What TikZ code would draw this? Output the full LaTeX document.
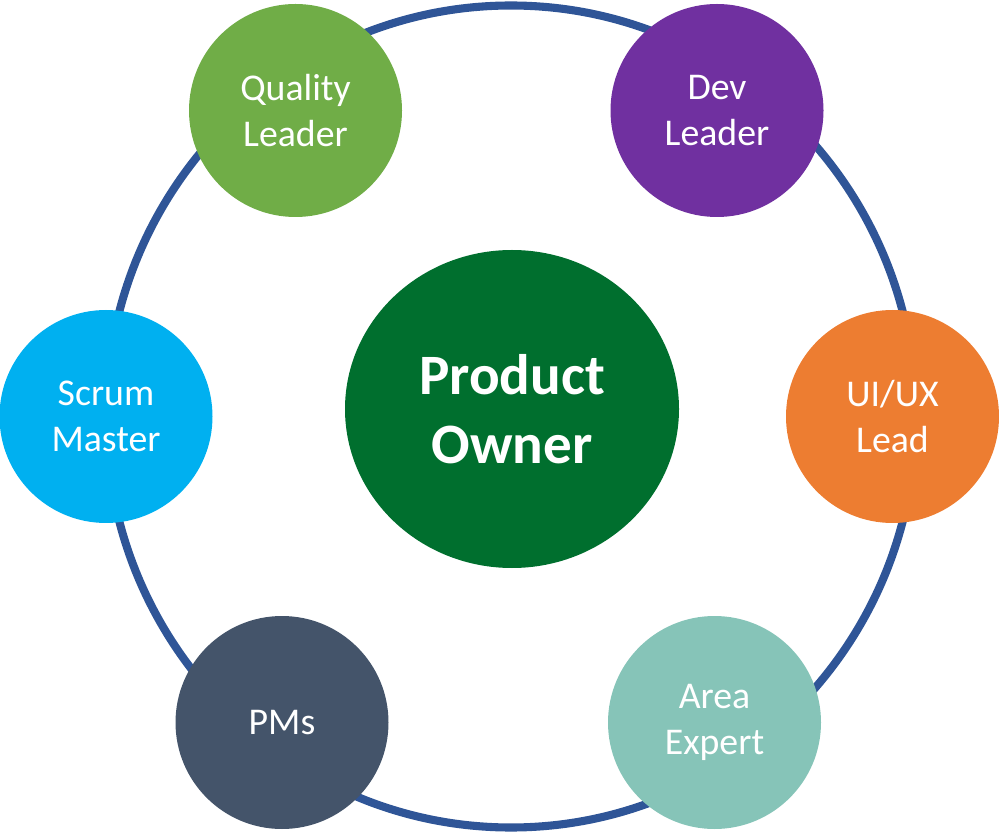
\documentclass[tikz,border=0pt]{standalone}
\usepackage{fontspec}
\setmainfont{Carlito}
\usetikzlibrary{shapes.geometric}
\definecolor{ringblue}{HTML}{2F5597}
\definecolor{qgreen}{HTML}{70AD47}
\definecolor{devpurple}{HTML}{7030A0}
\definecolor{scrumblue}{HTML}{00B0F0}
\definecolor{uxorange}{HTML}{ED7D31}
\definecolor{pmslate}{HTML}{44546A}
\definecolor{areateal}{HTML}{86C4B8}
\definecolor{pogreen}{HTML}{006F2E}

\begin{document}
\begin{tikzpicture}[
    role/.style={shape=circle, minimum size=4.26cm, inner sep=0pt, text=white,
                 align=center, font=\fontsize{21.5}{26}\selectfont},
    owner/.style={shape=ellipse, minimum width=6.68cm, minimum height=6.36cm,
                  inner sep=0pt, text=white, align=center,
                  font=\fontsize{32.5}{39}\selectfont\bfseries},
    ring/.style={draw=ringblue, line width=4.6pt}]
    \useasboundingbox (0,0) rectangle (19.98,16.68);
    \coordinate (ctr) at (10.22,8.35);
    \draw[ring] (ctr) ellipse [x radius=8.1, y radius=8.22];
    \node[owner, fill=pogreen] (po) at (10.24,8.50) {Product\\Owner};
    \node[role, fill=qgreen] (ql) at (5.91,14.47) {Quality\\Leader};
    \node[role, fill=devpurple] (dl) at (14.34,14.47) {Dev\\Leader};
    \node[role, fill=scrumblue] (sm) at (2.12,8.35) {Scrum\\Master};
    \node[role, fill=uxorange] (ux) at (17.85,8.35) {UI/UX\\Lead};
    \node[role, fill=pmslate] (pm) at (5.64,2.23) {PMs};
    \node[role, fill=areateal] (ae) at (14.29,2.23) {Area\\Expert};
\end{tikzpicture}
\end{document}
